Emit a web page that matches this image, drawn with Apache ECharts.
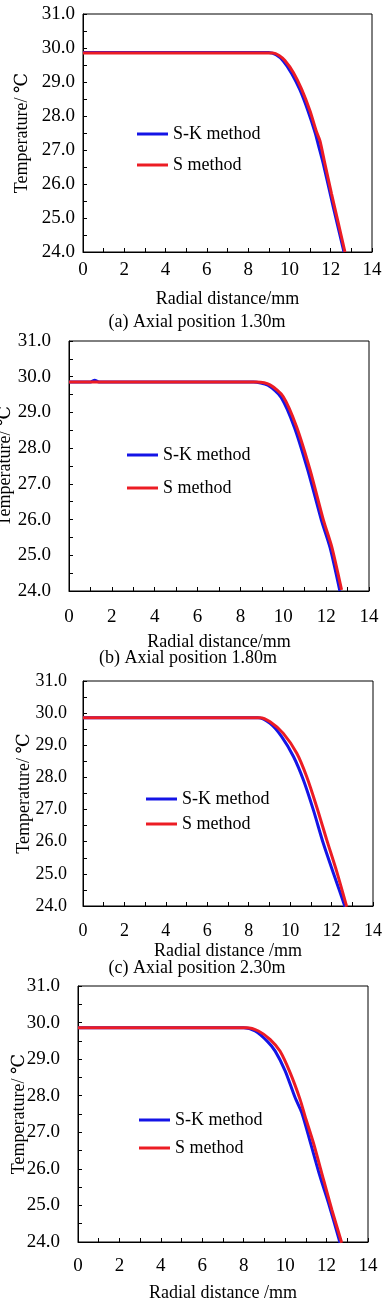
<!DOCTYPE html>
<html>
<head>
<meta charset="utf-8">
<script src="https://cdn.jsdelivr.net/npm/echarts@6/dist/echarts.min.js"></script>
<style>
  html, body { margin: 0; padding: 0; background: #fff; }
  #chart { width: 382px; height: 1300px; }
</style>
</head>
<body>
<div id="chart"></div>
<script>
// 数据：[径向距离 mm, 温度 ℃]
const skA = [[0,29.87],[9.0,29.87],[9.35,29.8],[9.7,29.62],[10.1,29.26],[10.5,28.78],[10.9,28.15],[11.25,27.5],[11.4,27.15],[11.65,26.57],[11.98,25.7],[12.3,24.87],[12.64,24.0]]
const sA = [[0,29.85],[9.2,29.85],[9.5,29.78],[9.78,29.63],[10.19,29.28],[10.59,28.79],[10.99,28.16],[11.32,27.52],[11.48,27.27],[11.72,26.59],[12.04,25.71],[12.36,24.87],[12.69,24.0]]

const skB = [[0,29.85],[1.0,29.85],[1.2,29.9],[1.4,29.85],[8.6,29.85],[9.28,29.76],[9.9,29.42],[10.52,28.58],[11.15,27.37],[11.78,25.98],[12.18,25.22],[12.64,24.0]]
const sB = [[0,29.85],[8.76,29.85],[9.38,29.77],[10.0,29.44],[10.62,28.6],[11.25,27.39],[11.87,25.99],[12.26,25.24],[12.72,24.03]]

const skC = [[0,29.86],[8.45,29.86],[9.03,29.68],[9.59,29.27],[10.16,28.65],[10.64,27.92],[11.12,26.99],[11.6,25.95],[12.09,25.02],[12.65,23.98]]
const sC = [[0,29.86],[8.55,29.86],[9.03,29.73],[9.67,29.37],[10.32,28.75],[10.8,28.02],[11.28,27.09],[11.77,26.05],[12.25,25.07],[12.73,23.98]]

const skD = [[0,29.86],[8.0,29.86],[8.55,29.77],[9.12,29.5],[9.52,29.22],[10.0,28.68],[10.48,27.95],[10.8,27.54],[11.2,26.76],[11.68,25.8],[12.09,25.07],[12.65,23.98]]
const sD = [[0,29.86],[8.14,29.86],[8.71,29.77],[9.27,29.54],[9.75,29.22],[10.24,28.63],[10.72,27.9],[10.96,27.44],[11.36,26.72],[11.85,25.71],[12.25,24.89],[12.73,23.98]]

const seriesNames = ['S-K method', 'S method']
const xNames = ['Radial distance/mm', 'Radial distance/mm', 'Radial distance /mm', 'Radial distance /mm']
const captions = ['(a) Axial position 1.30m', '(b) Axial position 1.80m', '(c) Axial position 2.30m']
const yName = 'Temperature/ \u2103'

const FONT = '"Liberation Serif", "DejaVu Serif", serif'

// 每个子图的布局
const panels = [
  {sk: skA, s: sA, grid: {left: 83, top: 14, width: 289, height: 238}, xMargin: 9, yMargin: 8, xGap: 38, yGap: 52, fs: 19,
    legend: {left: 137, top: 125, gap: 13}, cap: {x: 197, y: 322}},
  {sk: skB, s: sB, grid: {left: 69, top: 341, width: 300, height: 250}, xMargin: 17, yMargin: 18, xGap: 42, yGap: 55, fs: 19,
    legend: {left: 127, top: 446, gap: 15}, cap: {x: 188, y: 658}},
  {sk: skC, s: sC, grid: {left: 83, top: 681, width: 290, height: 225}, xMargin: 16, yMargin: 16, xGap: 36, yGap: 50, fs: 18,
    legend: {left: 146, top: 790, gap: 7}, cap: {x: 197, y: 968}},
  {sk: skD, s: sD, grid: {left: 78, top: 986, width: 290, height: 256}, xMargin: 15, yMargin: 18, xGap: 42, yGap: 50, fs: 19,
    legend: {left: 139, top: 1111, gap: 10}, cap: null}
]

const grids = [], xAxes = [], yAxes = [], series = [], legends = [], graphics = []

panels.forEach((p, i) => {
  grids.push(Object.assign({show: true, borderColor: '#000', borderWidth: 1, backgroundColor: 'transparent',
    containLabel: false, outerBoundsMode: 'none'}, p.grid))
  xAxes.push({
    gridIndex: i, type: 'value', min: 0, max: 14, interval: 2,
    name: xNames[i], nameLocation: 'middle', nameGap: p.xGap, nameMoveOverlap: false,
    nameTextStyle: {fontFamily: FONT, fontSize: 18, color: '#000'},
    axisLine: {lineStyle: {color: '#000', width: 1}},
    axisTick: {inside: true, length: 4, lineStyle: {color: '#000'}},
    minorTick: {show: true, splitNumber: 2, length: 4, lineStyle: {color: '#000'}},
    splitLine: {show: false},
    axisLabel: {margin: p.xMargin, fontFamily: FONT, fontSize: p.fs, color: '#000', showMaxLabel: true, showMinLabel: true}
  })
  yAxes.push({
    gridIndex: i, type: 'value', min: 24, max: 31, interval: 1,
    name: yName, nameLocation: 'middle', nameGap: p.yGap, nameMoveOverlap: false,
    nameTextStyle: {fontFamily: FONT, fontSize: 18, color: '#000'},
    axisLine: {lineStyle: {color: '#000', width: 1}},
    axisTick: {inside: true, length: 4, lineStyle: {color: '#000'}},
    minorTick: {show: true, splitNumber: 2, length: 4, lineStyle: {color: '#000'}},
    splitLine: {show: false},
    axisLabel: {margin: p.yMargin, fontFamily: FONT, fontSize: p.fs, color: '#000', formatter: v => v.toFixed(1)}
  })
  series.push({
    name: seriesNames[0], type: 'line', xAxisIndex: i, yAxisIndex: i, data: p.sk,
    showSymbol: false, symbol: 'none', smooth: 0.25,
    lineStyle: {color: '#1414e6', width: 3}, itemStyle: {color: '#1414e6'}
  })
  series.push({
    name: seriesNames[1], type: 'line', xAxisIndex: i, yAxisIndex: i, data: p.s,
    showSymbol: false, symbol: 'none', smooth: 0.25,
    lineStyle: {color: '#ec1c24', width: 3}, itemStyle: {color: '#ec1c24'}
  })
  legends.push({
    left: p.legend.left, top: p.legend.top, orient: 'vertical', itemGap: p.legend.gap, padding: 0,
    icon: 'rect', itemWidth: 31, itemHeight: 3,
    textStyle: {fontFamily: FONT, fontSize: 18, color: '#000'},
    data: seriesNames
  })
  if (p.cap) {
    graphics.push({
      type: 'text', x: p.cap.x, y: p.cap.y,
      style: {text: captions[i], font: '18px ' + FONT, fill: '#000', textAlign: 'center', textVerticalAlign: 'middle'}
    })
  }
})

const chart = echarts.init(document.getElementById('chart'))
chart.setOption({
  animation: false,
  grid: grids,
  xAxis: xAxes,
  yAxis: yAxes,
  legend: legends,
  series: series,
  graphic: graphics
})
</script>
</body>
</html>
